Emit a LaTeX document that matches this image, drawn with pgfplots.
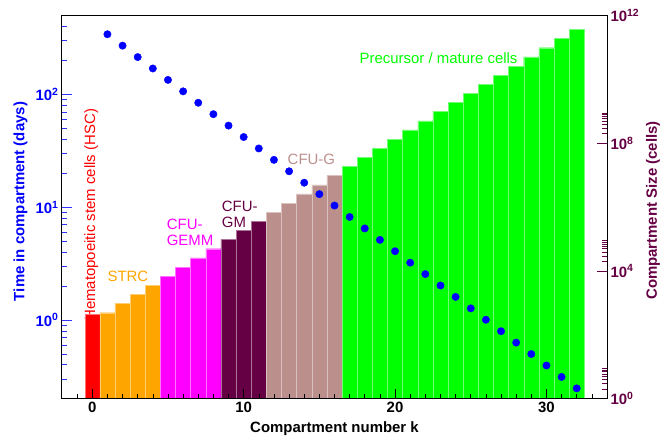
\documentclass[border=0pt]{standalone}
\usepackage{fontspec}
\setmainfont{Liberation Sans}
\usepackage{pgfplots}
\pgfplotsset{compat=1.18}
\definecolor{cRed}{RGB}{255,0,0}
\definecolor{cOrange}{RGB}{255,165,0}
\definecolor{cMagenta}{RGB}{255,0,255}
\definecolor{cMaroon}{RGB}{102,0,68}
\definecolor{cTan}{RGB}{187,143,140}
\definecolor{cGreen}{RGB}{0,255,0}
\definecolor{cBlue}{RGB}{0,0,255}
\pgfplotsset{
  mybar/.style={ybar, bar width=1, bar shift=0pt, fill=#1, draw=#1!55!white, line width=0.4bp},
}
\begin{document}
\begin{tikzpicture}[font=\fontsize{15}{17}\selectfont]
\path[use as bounding box] (-62bp,-44.3bp) rectangle (599bp,398.7bp);
% ---------- right axis: compartment size (bars)
\begin{axis}[
  at={(0,0)}, anchor=south west,
  scale only axis, width=545bp, height=383bp,
  xmin=-2, xmax=34,
  ymode=log, ymin=1, ymax=1e12,
  hide x axis,
  axis y line*=right,
  axis line style={line width=1bp, black},
  tick align=inside,
  major tick length=10bp, minor tick length=5bp,
  ytick={1,1e4,1e8,1e12},
  yticklabels={10\textsuperscript{0},10\textsuperscript{4},10\textsuperscript{8},10\textsuperscript{12}},
  minor ytick={2,3,4,5,6,7,8,9,2e4,3e4,4e4,5e4,6e4,7e4,8e4,9e4,2e8,3e8,4e8,5e8,6e8,7e8,8e8,9e8},
  y tick style={cMaroon, line width=0.6bp},
  yticklabel style={text=cMaroon, font=\fontsize{15}{17}\selectfont\bfseries},
  ylabel={Compartment Size (cells)},
  ylabel style={at={(axis description cs:1.0844,0.4914)}, anchor=center, text=cMaroon, font=\fontsize{15}{17}\selectfont\bfseries},
  clip=true,
]
\node[rotate=90, anchor=west, inner sep=0pt, text=cRed] at (rel axis cs:0.0535,0.203) {Hematopoeitic stem cells (HSC)};
\addplot[mybar=cRed] coordinates {(0,441)};
\addplot[mybar=cOrange] coordinates {(1,494) (2,955) (3,1849) (4,3574)};
\addplot[mybar=cMagenta] coordinates {(5,6906) (6,1.336e4) (7,2.583e4) (8,4.99e4)};
\addplot[mybar=cMaroon] coordinates {(9,9.64e4) (10,1.866e5) (11,3.61e5)};
\addplot[mybar=cTan] coordinates {(12,6.97e5) (13,1.349e6) (14,2.606e6) (15,5.04e6) (16,9.75e6)};
\addplot[mybar=cGreen] coordinates {(17,1.884e7) (18,3.64e7) (19,7.03e7) (20,1.361e8) (21,2.63e8) (22,5.08e8) (23,9.84e8) (24,1.901e9) (25,3.67e9) (26,7.10e9) (27,1.374e10) (28,2.65e10) (29,5.13e10) (30,9.93e10) (31,1.919e11) (32,3.71e11)};
\end{axis}
% ---------- left axis: time in compartment (dots)
\begin{axis}[
  at={(0,0)}, anchor=south west,
  scale only axis, width=545bp, height=383bp,
  xmin=-2, xmax=34,
  ymode=log, ymin=0.2, ymax=500,
  axis line style={line width=1bp, black},
  tick pos=left,
  tick align=inside,
  major tick length=10bp, minor tick length=5bp,
  xtick={0,10,20,30},
  xticklabels={0,10,20,30},
  minor xtick={-1,0,...,33},
  x tick style={black, line width=0.6bp},
  xticklabel style={font=\fontsize{15}{17}\selectfont\bfseries},
  ytick={1,10,100},
  yticklabels={10\textsuperscript{0},10\textsuperscript{1},10\textsuperscript{2}},
  minor ytick={0.3,0.4,0.5,0.6,0.7,0.8,0.9,2,3,4,5,6,7,8,9,20,30,40,50,60,70,80,90,200,300,400},
  y tick style={cBlue!80!white, line width=0.6bp},
  yticklabel style={text=cBlue, font=\fontsize{15}{17}\selectfont\bfseries},
  xlabel={Compartment number k},
  xlabel style={at={(axis description cs:0.5,-0.0778)}, anchor=center, font=\fontsize{15}{17}\selectfont\bfseries},
  ylabel={Time in compartment (days)},
  ylabel style={at={(axis description cs:-0.0761,0.5149)}, anchor=center, text=cBlue, font=\fontsize{15}{17}\selectfont\bfseries},
]
\addplot[only marks, mark=*, mark size=3.7bp, color=cBlue] coordinates {
(1,342.3) (2,271.2) (3,214.7) (4,170.1) (5,134.7) (6,106.6) (7,84.45) (8,66.89)
(9,52.96) (10,41.93) (11,33.20) (12,26.30) (13,20.82) (14,16.49) (15,13.06) (16,10.34)
(17,8.19) (18,6.48) (19,5.13) (20,4.07) (21,3.22) (22,2.55) (23,2.02) (24,1.60)
(25,1.266) (26,1.003) (27,0.794) (28,0.629) (29,0.498) (30,0.394) (31,0.312) (32,0.247)};
\node[text=cOrange, anchor=center] at (rel axis cs:0.121,0.320) {STRC};
\node[text=cMagenta, anchor=west, align=left, inner sep=0pt, font=\fontsize{15}{16}\selectfont] at (rel axis cs:0.192,0.435) {CFU-\\GEMM};
\node[text=cMaroon, anchor=west, align=left, inner sep=0pt, font=\fontsize{15}{16}\selectfont] at (rel axis cs:0.293,0.482) {CFU-\\GM};
\node[text=cTan, anchor=center] at (rel axis cs:0.4576,0.625) {CFU-G};
\node[text=cGreen, anchor=center] at (rel axis cs:0.691,0.889) {Precursor / mature cells};
\end{axis}
\end{tikzpicture}
\end{document}
